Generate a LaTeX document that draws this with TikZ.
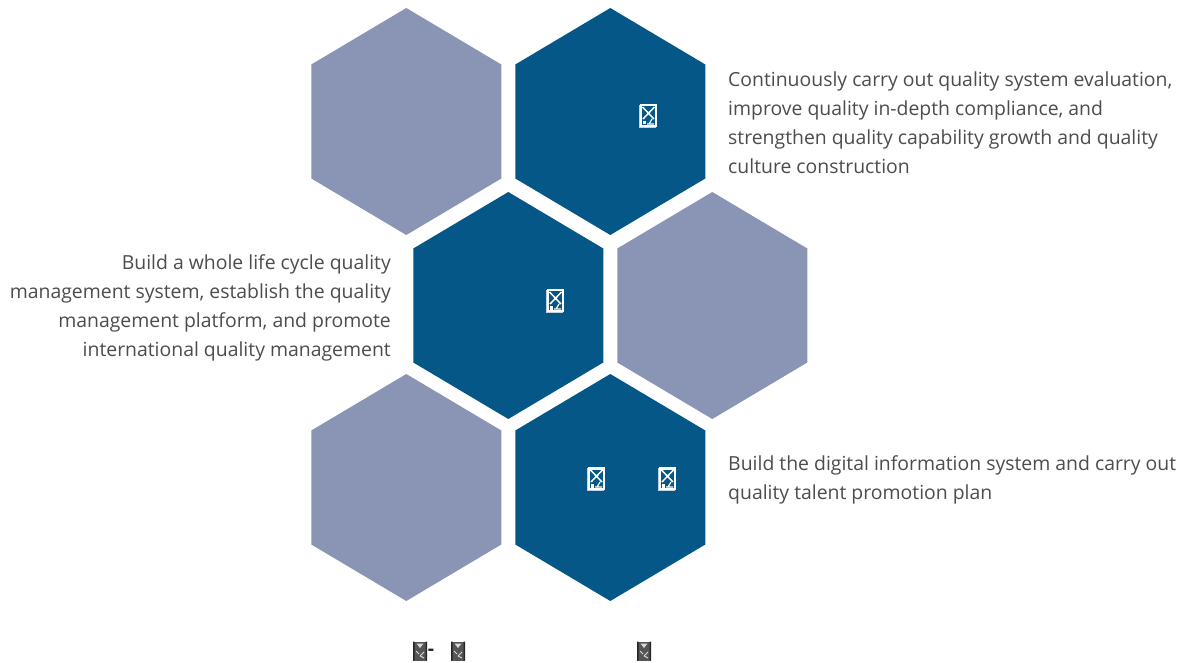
\documentclass[tikz,border=0pt]{standalone}
\usepackage{fontspec}
\setmainfont{Open Sans}
\usetikzlibrary{positioning}
\definecolor{cellblue}{HTML}{045786}
\definecolor{cellgrey}{HTML}{8A95B5}
\definecolor{glyphgrey}{HTML}{555555}
\tikzset{every node/.append style={font=\fontsize{19.4}{29}\selectfont, text=black!70, inner sep=0pt}}
\tikzset{darkcell/.style={fill=cellblue}}
\tikzset{greycell/.style={fill=cellgrey}}
\tikzset{hexcell/.pic={
    \fill[pic actions] (0,-113.5)--(95,-57)--(95,57)--(0,113.5)--(-95,57)--(-95,-57)--cycle;
  }}
\tikzset{boxglyph/.pic={
    \fill[white!75!cellblue] (-9,-11) rectangle (8,12);
    \fill[white] (-8,-12) rectangle (9,11);
    \fill[cellblue] (-6,-9.5) rectangle (7,9);
    \draw[white, line width=1.5pt] (-5.5,-9)--(6,3) (6.5,-9)--(-5,3);
    \draw[white, line width=1.2pt] (-1,8)--(6,8) (1,8)--(4,3);
    \fill[white] (-5.5,5) rectangle (-2.5,8.5);
  }}
\tikzset{smallglyph/.pic={
    \fill[glyphgrey] (-7,-9.5) rectangle (7,9.5);
    \fill[black!85] (-7,-9.5) rectangle (-5.5,9.5) (5.5,-9.5) rectangle (7,9.5);
    \fill[white!85!black] (-3.5,-7.5)--(3.5,-7.5)--(0,-3)--cycle;
    \draw[white!85!black, line width=.9pt] (-4,0)--(-1,3) (4,1)--(0,5) (0,5)--(4,7);
  }}
\begin{document}
\begin{tikzpicture}[x=1pt,y=-1pt]
  \useasboundingbox (0,0) rectangle (1192,663);
  \coordinate (c1) at (406.3,121.5);
  \coordinate (c2) at (610.3,121.5);
  \coordinate (c3) at (508.3,305.5);
  \coordinate (c4) at (712.3,305.5);
  \coordinate (c5) at (406.3,487.5);
  \coordinate (c6) at (610.3,487.5);
  \pic[greycell] (hex1) at (c1) {hexcell};
  \pic[darkcell] (hex2) at (c2) {hexcell};
  \pic[darkcell] (hex3) at (c3) {hexcell};
  \pic[greycell] (hex4) at (c4) {hexcell};
  \pic[greycell] (hex5) at (c5) {hexcell};
  \pic[darkcell] (hex6) at (c6) {hexcell};
  % glyph boxes
  \pic (g1) at (648,116) {boxglyph};
  \pic (g2) at (555,301) {boxglyph};
  \pic (g3) at (596,479) {boxglyph};
  \pic (g4) at (667,479) {boxglyph};
  \pic (g5) at (420,651) {smallglyph};
  \pic (g6) at (458,651) {smallglyph};
  \pic (g7) at (644,651) {smallglyph};
  \node[text=black!85] (dash) at (431,652) {\bfseries -};
  % captions
  \node[anchor=north west, align=left] (top) at (728,72) {Continuously carry out quality system evaluation,\\improve quality in-depth compliance, and\\strengthen quality capability growth and quality\\culture construction};
  \node[anchor=north east, align=right] (mid) at (391,254) {Build a whole life cycle quality\\management system, establish the quality\\management platform, and promote\\international quality management};
  \node[anchor=north west, align=left] (low) at (728,455) {Build the digital information system and carry out\\quality talent promotion plan};
\end{tikzpicture}
\end{document}
